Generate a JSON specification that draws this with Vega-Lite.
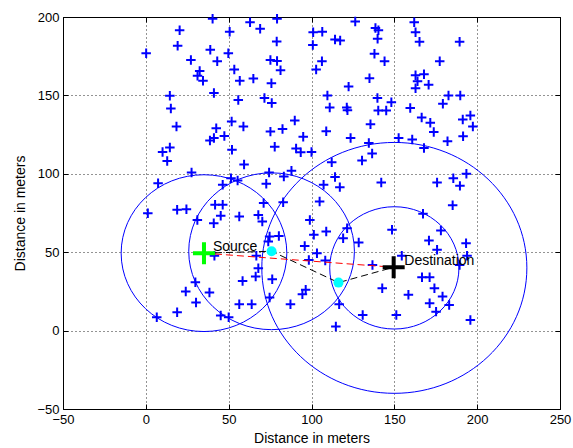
{
  "$schema": "https://vega.github.io/schema/vega-lite/v6.json",
  "width": 497,
  "height": 392,
  "autosize": {"type": "none"},
  "padding": {"left": 63, "top": 17, "right": 13, "bottom": 39},
  "background": "#ffffff",
  "config": {
    "view": {"stroke": "#000000", "strokeWidth": 1},
    "axis": {
      "labelFont": "Liberation Sans", "labelFontSize": 13, "labelColor": "#000000",
      "titleFont": "Liberation Sans", "titleFontSize": 14, "titleFontWeight": "normal", "titleColor": "#000000",
      "domain": false, "tickColor": "#000000", "tickSize": -5, "labelPadding": 9,
      "grid": true, "gridColor": "#000000", "gridDash": [1, 3], "gridOpacity": 0.85, "gridWidth": 1,
      "labelFlush": false, "labelOverlap": false
    }
  },
  "datasets": {
    "nodes": [
      {"x":40.3,"y":198.9},{"x":20.4,"y":191.5},{"x":50.6,"y":190.6},{"x":62.9,"y":196.6},{"x":69.0,"y":192.5},{"x":79.2,"y":198.9},{"x":79.0,"y":184.4},{"x":19.2,"y":181.6},{"x":0.2,"y":176.9},{"x":38.9,"y":179.1},{"x":49.8,"y":176.9},{"x":27.2,"y":172.6},{"x":43.1,"y":171.8},{"x":75.2,"y":172.6},{"x":79.2,"y":172.0},{"x":32.5,"y":165.6},{"x":53.4,"y":166.5},{"x":81.3,"y":166.0},{"x":31.2,"y":162.6},{"x":34.5,"y":159.4},{"x":56.7,"y":159.4},{"x":64.9,"y":160.7},{"x":75.8,"y":157.7},{"x":14.5,"y":149.8},{"x":41.1,"y":151.5},{"x":55.8,"y":147.0},{"x":71.6,"y":148.3},{"x":76.0,"y":145.1},{"x":15.1,"y":141.7},{"x":51.8,"y":133.3},{"x":58.9,"y":130.1},{"x":89.9,"y":134.0},{"x":18.5,"y":130.1},{"x":42.5,"y":129.1},{"x":75.2,"y":126.9},{"x":82.5,"y":128.6},{"x":47.4,"y":124.1},{"x":41.1,"y":122.9},{"x":38.7,"y":121.2},{"x":95.0,"y":123.7},{"x":14.5,"y":116.7},{"x":10.1,"y":113.9},{"x":12.9,"y":108.1},{"x":52.0,"y":115.4},{"x":77.8,"y":117.3},{"x":90.7,"y":116.2},{"x":93.5,"y":113.8},{"x":59.3,"y":106.0},{"x":27.6,"y":100.9},{"x":74.4,"y":100.9},{"x":87.9,"y":101.9},
      {"x":126.4,"y":197.2},{"x":101.0,"y":190.2},{"x":106.5,"y":190.6},{"x":100.8,"y":182.1},{"x":114.2,"y":185.7},{"x":117.3,"y":185.0},{"x":138.6,"y":193.0},{"x":140.4,"y":191.5},{"x":139.9,"y":186.1},{"x":162.0,"y":196.6},{"x":162.8,"y":190.2},{"x":165.2,"y":184.2},{"x":189.4,"y":184.2},{"x":106.3,"y":171.8},{"x":102.8,"y":166.5},{"x":138.0,"y":176.5},{"x":144.1,"y":171.8},{"x":177.4,"y":171.8},{"x":135.0,"y":160.9},{"x":122.4,"y":155.6},{"x":162.8,"y":162.8},{"x":167.9,"y":163.5},{"x":164.0,"y":159.0},{"x":170.7,"y":156.8},{"x":162.8,"y":154.5},{"x":109.6,"y":150.0},{"x":139.8,"y":148.3},{"x":148.2,"y":145.7},{"x":182.7,"y":150.0},{"x":189.8,"y":150.0},{"x":179.3,"y":144.7},{"x":111.0,"y":142.3},{"x":121.3,"y":142.3},{"x":121.7,"y":140.6},{"x":140.3,"y":140.4},{"x":145.1,"y":140.4},{"x":159.6,"y":141.9},{"x":166.5,"y":135.9},{"x":191.3,"y":134.6},{"x":195.9,"y":137.2},{"x":197.4,"y":130.1},{"x":171.7,"y":132.5},{"x":173.8,"y":126.7},{"x":135.6,"y":131.6},{"x":108.9,"y":127.1},{"x":123.6,"y":122.9},{"x":134.6,"y":119.7},{"x":100.0,"y":113.9},{"x":152.6,"y":122.9},{"x":160.8,"y":121.8},{"x":182.1,"y":120.7},{"x":191.5,"y":123.9},{"x":167.9,"y":116.5},{"x":136.6,"y":113.0},{"x":112.2,"y":107.3},{"x":130.5,"y":108.5},{"x":193.5,"y":100.0},
      {"x":7.4,"y":94.0},{"x":51.4,"y":97.2},{"x":55.4,"y":95.7},{"x":46.4,"y":93.0},{"x":72.7,"y":93.6},{"x":83.3,"y":98.3},{"x":1.2,"y":74.9},{"x":18.9,"y":77.0},{"x":24.5,"y":77.4},{"x":31.1,"y":70.6},{"x":41.8,"y":80.2},{"x":46.4,"y":80.2},{"x":45.2,"y":73.2},{"x":41.0,"y":68.5},{"x":56.4,"y":72.8},{"x":67.9,"y":73.8},{"x":70.3,"y":69.6},{"x":71.1,"y":81.3},{"x":82.9,"y":81.9},{"x":74.7,"y":60.0},{"x":80.3,"y":60.4},{"x":73.9,"y":56.8},{"x":41.4,"y":47.7},{"x":66.7,"y":47.7},{"x":67.9,"y":39.8},{"x":66.3,"y":34.5},{"x":58.4,"y":31.7},{"x":76.3,"y":32.8},{"x":29.9,"y":30.9},{"x":24.1,"y":24.9},{"x":38.4,"y":24.3},{"x":30.3,"y":17.9},{"x":18.9,"y":11.7},{"x":6.6,"y":8.5},{"x":56.4,"y":16.8},{"x":63.9,"y":16.8},{"x":74.7,"y":21.1},{"x":87.3,"y":16.8},{"x":45.2,"y":9.6},{"x":50.0,"y":8.5},
      {"x":114.2,"y":97.9},{"x":107.3,"y":93.0},{"x":117.1,"y":91.5},{"x":142.1,"y":94.5},{"x":175.8,"y":94.5},{"x":185.6,"y":97.2},{"x":189.6,"y":92.3},{"x":104.9,"y":82.3},{"x":99.0,"y":70.6},{"x":101.4,"y":61.1},{"x":108.9,"y":63.2},{"x":121.5,"y":65.3},{"x":119.1,"y":58.9},{"x":128.5,"y":56.2},{"x":95.9,"y":54.0},{"x":103.3,"y":49.4},{"x":108.3,"y":44.7},{"x":98.4,"y":45.1},{"x":136.8,"y":41.9},{"x":154.5,"y":47.7},{"x":167.3,"y":74.5},{"x":185.2,"y":80.0},{"x":148.6,"y":64.3},{"x":178.1,"y":63.8},{"x":170.9,"y":57.4},{"x":175.8,"y":51.5},{"x":193.3,"y":55.7},{"x":193.9,"y":47.7},{"x":189.4,"y":41.9},{"x":166.7,"y":34.0},{"x":171.3,"y":34.0},{"x":174.2,"y":27.0},{"x":179.1,"y":21.7},{"x":158.5,"y":22.8},{"x":142.7,"y":27.0},{"x":171.3,"y":17.4},{"x":175.2,"y":12.1},{"x":183.1,"y":16.4},{"x":195.9,"y":6.8},{"x":151.2,"y":10.0},{"x":130.9,"y":10.0},{"x":116.7,"y":16.8},{"x":114.7,"y":2.6},{"x":96.5,"y":26.0},{"x":94.5,"y":23.2}
    ],
    "circles": [
      {"x":35.1,"y":49.4,"r":50},
      {"x":75.9,"y":50.6,"r":50},
      {"x":150,"y":40,"r":80},
      {"x":150,"y":40,"r":39}
    ],
    "routes": [
      {"route":"direct","step":1,"x":35.1,"y":49.4},
      {"route":"direct","step":2,"x":149.6,"y":40.4},
      {"route":"hops","step":1,"x":35.1,"y":49.4},
      {"route":"hops","step":2,"x":75.9,"y":50.6},
      {"route":"hops","step":3,"x":116.3,"y":30.6},
      {"route":"hops","step":4,"x":149.6,"y":40.4}
    ],
    "relays": [
      {"x":75.9,"y":50.6},
      {"x":116.3,"y":30.6}
    ],
    "ends": [
      {"role":"Source","x":35.1,"y":49.4},
      {"role":"Destination","x":149.6,"y":40.4}
    ],
    "labels": [
      {"text":"Source","x":40.5,"y":53.3},
      {"text":"Destination","x":156.0,"y":44.2}
    ]
  },
  "resolve": {"axis": {"x": "independent", "y": "independent"}},
  "layer": [
    {
      "data": {"name": "nodes"},
      "mark": {"type": "point", "shape": "M-1,0L1,0M0,-1L0,1", "filled": false, "stroke": "#0000ff", "strokeWidth": 2, "size": 90, "opacity": 1},
      "encoding": {
        "x": {"field": "x", "type": "quantitative", "scale": {"domain": [-50, 250], "nice": false, "zero": false},
              "axis": {"orient": "bottom", "values": [-50, 0, 50, 100, 150, 200, 250], "title": "Distance in meters", "titlePadding": 5}},
        "y": {"field": "y", "type": "quantitative", "scale": {"domain": [-50, 200], "nice": false, "zero": false},
              "axis": {"orient": "left", "values": [-50, 0, 50, 100, 150, 200], "title": "Distance in meters", "titlePadding": 9}}
      }
    },
    {
      "data": {"name": "circles"},
      "mark": {"type": "point", "shape": "M-1,0A1,0.9465,0,1,1,1,0A1,0.9465,0,1,1,-1,0Z", "filled": false, "stroke": "#0000ff", "strokeWidth": 1, "opacity": 1},
      "encoding": {
        "x": {"field": "x", "type": "quantitative", "scale": {"domain": [-50, 250], "nice": false, "zero": false},
              "axis": {"orient": "top", "values": [-50, 0, 50, 100, 150, 200, 250], "labels": false, "grid": false, "title": null}},
        "y": {"field": "y", "type": "quantitative", "scale": {"domain": [-50, 200], "nice": false, "zero": false},
              "axis": {"orient": "right", "values": [-50, 0, 50, 100, 150, 200], "labels": false, "grid": false, "title": null}},
        "size": {"field": "r", "type": "quantitative", "scale": {"type": "pow", "exponent": 2, "domain": [0, 80], "range": [0, 70262], "zero": true}, "legend": null}
      }
    },
    {
      "data": {"name": "routes"},
      "mark": {"type": "line", "strokeWidth": 1, "strokeDash": [7, 4]},
      "encoding": {
        "x": {"field": "x", "type": "quantitative", "axis": null},
        "y": {"field": "y", "type": "quantitative", "axis": null},
        "color": {"field": "route", "type": "nominal", "scale": {"domain": ["direct", "hops"], "range": ["#ff0000", "#000000"]}, "legend": null},
        "order": {"field": "step", "type": "quantitative"}
      }
    },
    {
      "data": {"name": "relays"},
      "mark": {"type": "point", "shape": "circle", "filled": true, "color": "#00ffff", "size": 100, "opacity": 1},
      "encoding": {
        "x": {"field": "x", "type": "quantitative", "axis": null},
        "y": {"field": "y", "type": "quantitative", "axis": null}
      }
    },
    {
      "data": {"name": "ends"},
      "mark": {"type": "point", "shape": "M-1,0L1,0M0,-1L0,1", "filled": false, "strokeWidth": 4, "size": 484, "opacity": 1},
      "encoding": {
        "x": {"field": "x", "type": "quantitative", "axis": null},
        "y": {"field": "y", "type": "quantitative", "axis": null},
        "stroke": {"field": "role", "type": "nominal", "scale": {"domain": ["Source", "Destination"], "range": ["#00ff00", "#000000"]}, "legend": null}
      }
    },
    {
      "data": {"name": "labels"},
      "mark": {"type": "text", "align": "left", "baseline": "middle", "font": "Liberation Sans", "fontSize": 14, "color": "#000000"},
      "encoding": {
        "x": {"field": "x", "type": "quantitative", "axis": null},
        "y": {"field": "y", "type": "quantitative", "axis": null},
        "text": {"field": "text", "type": "nominal"}
      }
    }
  ]
}
